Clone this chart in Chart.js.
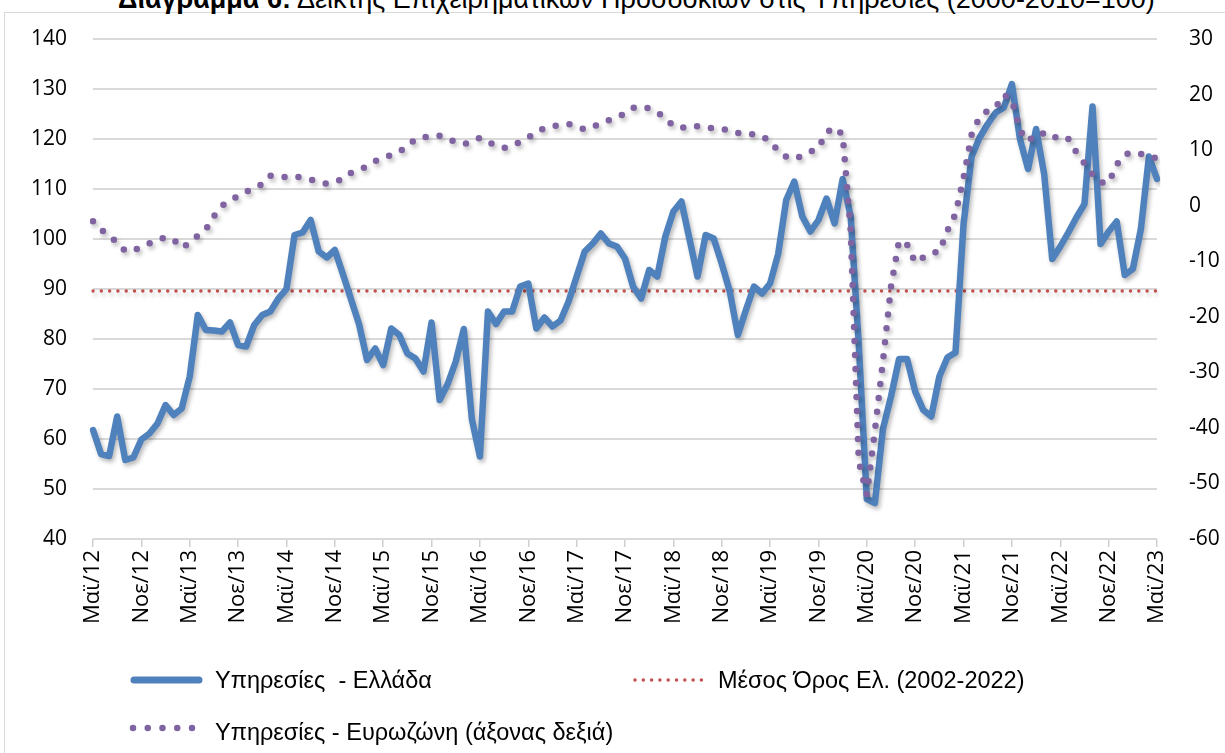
<!DOCTYPE html>
<html>
<head>
<meta charset="utf-8">
<script src="https://cdn.jsdelivr.net/npm/chart.js@4/dist/chart.umd.min.js"></script>
<style>
html,body{margin:0;padding:0;background:#fff;width:1225px;height:753px;overflow:hidden;position:relative;font-family:"Liberation Sans",Arial,sans-serif;}
#frame{position:absolute;left:4px;top:12px;width:1260px;height:780px;border-left:1.5px solid #d9d9d9;border-top:1.5px solid #d9d9d9;}
#title{position:absolute;left:118px;top:-14px;font-size:27px;line-height:27px;white-space:nowrap;color:#000;}
#c{position:absolute;left:0;top:0;}
.leg{position:absolute;font-size:23.5px;line-height:24px;white-space:nowrap;color:#000;}
#legsvg{position:absolute;left:0;top:650px;}
</style>
</head>
<body>
<div id="frame"></div>
<div id="title"><b>Διάγραμμα 6:</b> Δείκτης Επιχειρηματικών Προσδοκιών στις Υπηρεσίες (2000-2010=100)</div>
<canvas id="c" width="1225" height="753"></canvas>
<svg id="legsvg" width="800" height="103">
  <line x1="134" y1="30" x2="199" y2="30" stroke="#4F81BD" stroke-width="7" stroke-linecap="round"/>
  <line x1="635" y1="30" x2="705" y2="30" stroke="#C0504D" stroke-width="3.5" stroke-dasharray="0 8.3" stroke-linecap="round"/>
  <line x1="133" y1="78" x2="193" y2="78" stroke="#8064A2" stroke-width="6.5" stroke-dasharray="0 14.75" stroke-linecap="round"/>
</svg>
<div class="leg" style="left:215px;top:668px">Υπηρεσίες&nbsp; - Ελλάδα</div>
<div class="leg" style="left:718px;top:668px">Μέσος Όρος Ελ. (2002-2022)</div>
<div class="leg" style="left:215px;top:720px">Υπηρεσίες - Ευρωζώνη (άξονας δεξιά)</div>
<script>
// Month names (Greek abbreviations) used to build category labels, starting May 2012
const monthNames = ['Ιαν','Φεβ','Μαρ','Απρ','Μαϊ','Ιουν','Ιουλ','Αυγ','Σεπ','Οκτ','Νοε','Δεκ'];
const startMonth = 4;   // May
const startYear = 12;   // 2012
const monthCount = 133; // May 2012 .. May 2023

const labels = [];
for (let k = 0; k < monthCount; k++) {
  const m = (startMonth + k) % 12;
  const y = startYear + Math.floor((startMonth + k) / 12);
  labels.push(monthNames[m] + '/' + y);
}

// Services confidence - Greece (left axis)
const greece = [
  61.8,57,56.6,64.5,55.8,56.3,59.9,61.1,63.1,66.8,
  64.8,66.1,72.5,84.8,81.8,81.7,81.5,83.3,78.8,78.5,
  82.8,84.8,85.5,88.1,90,100.8,101.3,103.8,97.5,96.3,
  97.8,93,88,83,75.8,78.1,74.8,82.1,80.8,77.1,
  76.1,73.5,83.3,67.8,71,75.5,82,64,56.5,85.5,
  83,85.5,85.5,90.5,91.1,82.1,84.3,82.5,83.7,87.5,
  92.5,97.5,99.1,101.1,99.1,98.5,96.1,90.5,88.1,93.8,
  92.5,100.5,105.5,107.5,100,92.5,100.8,100.1,95.1,89.5,
  80.8,85.8,90.5,89.1,91.1,97,107.8,111.5,104.5,101.5,
  103.8,108.1,103.1,112,104.5,79,48,47.2,62,68.5,
  76,76,69.5,65.8,64.5,72.5,76.3,77.3,103,116.5,
  120.3,123,125.3,126.3,131,120,114,122,113,96,
  98.5,101.3,104.3,107,126.5,99,101.5,103.5,92.8,94,
  102,116.5,112
];

// Services confidence - Euro area (right axis)
const eurozone = [
  -2.8,-4.3,-5.5,-6.6,-8.2,-8.0,-7.5,-6.8,-6.2,-5.7,
  -6.1,-7.6,-6.7,-5.4,-4.3,-1.9,0.0,0.9,1.75,2.5,
  3.1,3.9,5.4,5.2,5.15,5.3,5.0,4.7,4.3,3.95,
  4.3,4.8,5.9,6.4,7.1,8.0,8.6,9.1,9.7,10.7,
  12.0,12.3,12.55,12.6,12.1,11.4,11.1,11.5,12.2,11.4,
  10.9,10.4,10.8,11.5,12.3,13.1,14.0,14.3,14.5,14.7,
  14.2,13.7,14.2,14.8,15.4,15.9,16.6,17.6,17.8,17.5,
  16.8,15.8,14.3,14.1,14.0,14.3,14.2,13.9,13.8,13.6,
  13.1,12.8,12.9,12.4,11.7,9.8,8.8,8.4,9.0,9.7,
  10.4,13.2,14.1,12.8,-4.5,-46,-52,-40.5,-28,-14.6,
  -6.3,-7.0,-10.2,-9.3,-8.5,-8.3,-4.5,-1.5,5.0,12.8,
  16.0,17.1,17.7,20.0,19.0,13.5,11.6,12.9,13.0,12.1,
  12.6,12.0,9.6,7.6,5.6,4.2,4.1,7.4,9.2,9.6,
  9.3,8.9,8.5
];

// Greek long-run average (2002-2022)
const greekAverage = 89.6;
const averageLine = labels.map(() => greekAverage);

// Axis settings
const leftMin = 40, leftMax = 140, leftStep = 10;
const rightMin = -60, rightMax = 30, rightStep = 10;
const labelEvery = 6;

const tickFont = { family: "'Open Sans', 'Noto Sans', sans-serif", size: 21 };
const xTickFont = { family: "'Open Sans', 'Noto Sans', sans-serif", size: 22 };

const shadowPlugin = {
  id: 'shadow',
  beforeDatasetDraw(chart) {
    const ctx = chart.ctx;
    ctx.save();
    ctx.shadowColor = 'rgba(0,0,0,0.28)';
    ctx.shadowBlur = 4;
    ctx.shadowOffsetX = 2;
    ctx.shadowOffsetY = 3;
  },
  afterDatasetDraw(chart) {
    chart.ctx.restore();
  }
};

new Chart(document.getElementById('c'), {
  type: 'line',
  data: {
    labels: labels,
    datasets: [
      {
        label: 'Υπηρεσίες - Ευρωζώνη (άξονας δεξιά)',
        data: eurozone,
        yAxisID: 'y1',
        borderColor: '#8064A2',
        borderWidth: 6.5,
        borderDash: [0, 14],
        borderCapStyle: 'round',
        borderJoinStyle: 'round',
        pointRadius: 0,
        tension: 0,
        fill: false,
        order: 0
      },
      {
        label: 'Υπηρεσίες  - Ελλάδα',
        data: greece,
        yAxisID: 'y',
        borderColor: '#4F81BD',
        borderWidth: 6.5,
        borderCapStyle: 'round',
        borderJoinStyle: 'round',
        pointRadius: 0,
        tension: 0,
        fill: false,
        order: 1
      },
      {
        label: 'Μέσος Όρος Ελ. (2002-2022)',
        data: averageLine,
        yAxisID: 'y',
        borderColor: '#C0504D',
        borderWidth: 3.5,
        borderDash: [0, 8.3],
        borderCapStyle: 'round',
        pointRadius: 0,
        tension: 0,
        fill: false,
        order: 2
      }
    ]
  },
  options: {
    responsive: false,
    animation: false,
    layout: { padding: { top: 39, left: 0, right: 0, bottom: 0 } },
    plugins: {
      legend: { display: false },
      title: { display: false },
      tooltip: { enabled: false }
    },
    scales: {
      x: {
        type: 'category',
        offset: false,
        grid: {
          drawOnChartArea: false,
          drawTicks: true,
          tickLength: 8,
          lineWidth: 1.5,
          color: (c) => (c.index % labelEvery === 0 ? '#d0d0d0' : 'rgba(0,0,0,0)')
        },
        border: { display: false },
        ticks: {
          autoSkip: false,
          minRotation: 90,
          maxRotation: 90,
          padding: 3,
          color: '#000',
          font: xTickFont,
          callback: (v, i) => (i % labelEvery === 0 ? labels[i] : '')
        },
        afterFit: (s) => { s.height = 753 - 539; }
      },
      y: {
        position: 'left',
        min: leftMin,
        max: leftMax,
        ticks: { stepSize: leftStep, padding: 26, color: '#000', font: tickFont },
        grid: { color: '#d9d9d9', lineWidth: 2, drawTicks: false },
        border: { display: false },
        afterFit: (s) => { s.width = 93; }
      },
      y1: {
        position: 'right',
        min: rightMin,
        max: rightMax,
        ticks: { stepSize: rightStep, padding: 24, color: '#000', font: tickFont },
        grid: { display: false, drawOnChartArea: false },
        border: { display: false },
        afterFit: (s) => { s.width = 1225 - 1157; }
      }
    }
  },
  plugins: [shadowPlugin]
});
</script>
</body>
</html>
